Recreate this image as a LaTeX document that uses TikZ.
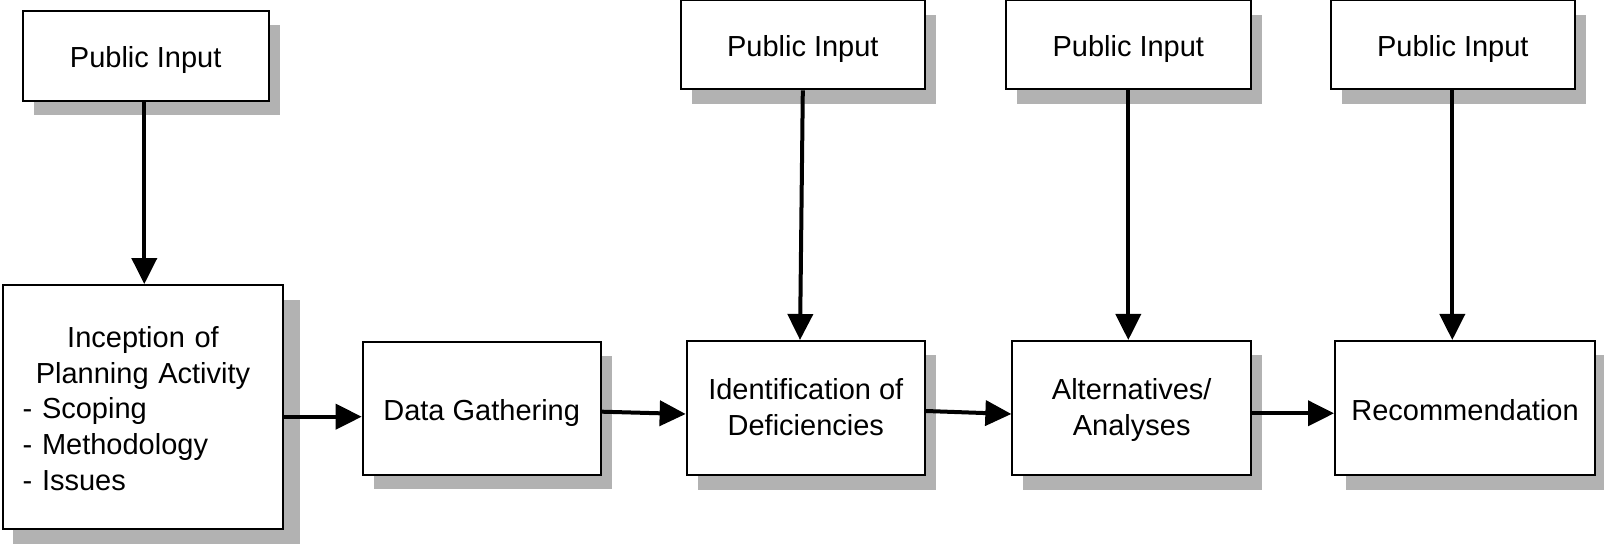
\documentclass[tikz,border=0pt]{standalone}
\usepackage{fontspec}
\setmainfont{Liberation Sans}
\usetikzlibrary{arrows.meta,shadows}
\definecolor{shadowgray}{RGB}{178,178,178}
\begin{document}
\begin{tikzpicture}[x=0.5pt,y=-0.5pt,
  boxbase/.style={draw=black, line width=1pt, fill=white, inner sep=0pt, align=center,
    font=\fontsize{14.5}{18}\selectfont},
  box/.style={boxbase,
    general shadow={fill=shadowgray, shadow xshift=5.5pt, shadow yshift=-7.25pt}},
  oneline/.style={text height=12.1pt, text depth=0pt},
  twoline/.style={text height=29pt, text depth=1pt},
  shadowfill/.style={fill=shadowgray},
  arr/.style={line width=2pt, -{Triangle[length=13pt,width=12.5pt]}},
]
\useasboundingbox (0,0) rectangle (1604,544);

% public input boxes
\node[box, oneline, minimum width=123pt, minimum height=44.85pt] (pi1) at (145.7,55.8) {Public Input};
\node[box, oneline, minimum width=122.15pt, minimum height=44.65pt] (pi2) at (802.8,44.7) {Public Input};
\node[box, oneline, minimum width=122.35pt, minimum height=44.65pt] (pi3) at (1128.3,44.7) {Public Input};
\node[box, oneline, minimum width=122.15pt, minimum height=44.65pt] (pi4) at (1452.8,44.7) {Public Input};

% process boxes
\fill[shadowfill] (12.7,300) rectangle (300,544);
\node[boxbase, minimum width=140pt, minimum height=122.15pt, text width=120.3pt, align=left,
  text height=11pt, text depth=70.5pt,
  font=\fontsize{14.5}{17.8}\selectfont] (inc) at (143,407.2)
  {\makebox[120.3pt]{Inception of}\\\makebox[120.3pt]{Planning Activity}\\- Scoping\\- Methodology\\- Issues};
\node[box, oneline, minimum width=119pt, minimum height=66.65pt] (dg) at (481.7,408.3) {Data Gathering};
\node[box, twoline, minimum width=119.15pt, minimum height=67pt] (id) at (805.8,408) {Identification of\\Deficiencies};
\node[box, twoline, minimum width=119.35pt, minimum height=67pt] (alt) at (1131.7,408) {Alternatives/\\Analyses};
\node[box, oneline, minimum width=130pt, minimum height=67pt] (rec) at (1465,408) {Recommendation};

% vertical arrows
\draw[arr] ([xshift=-0.7pt]pi1.south) -- ([xshift=0.65pt]inc.north);
\draw[arr] (pi2.south) -- ([xshift=-2.9pt]id.north);
\draw[arr] (pi3.south) -- ([xshift=-1.7pt]alt.north);
\draw[arr] ([xshift=-0.25pt]pi4.south) -- ([xshift=-6.35pt]rec.north);

% horizontal arrows
\draw[arr] ([yshift=-4.75pt]inc.east) -- ([yshift=-4.2pt]dg.west);
\draw[arr] ([yshift=-1.7pt]dg.east) -- ([yshift=-3pt]id.west);
\draw[arr] ([yshift=-1.5pt]id.east) -- ([yshift=-3pt]alt.west);
\draw[arr] ([yshift=-2.65pt]alt.east) -- ([yshift=-2.65pt]rec.west);
\end{tikzpicture}
\end{document}
